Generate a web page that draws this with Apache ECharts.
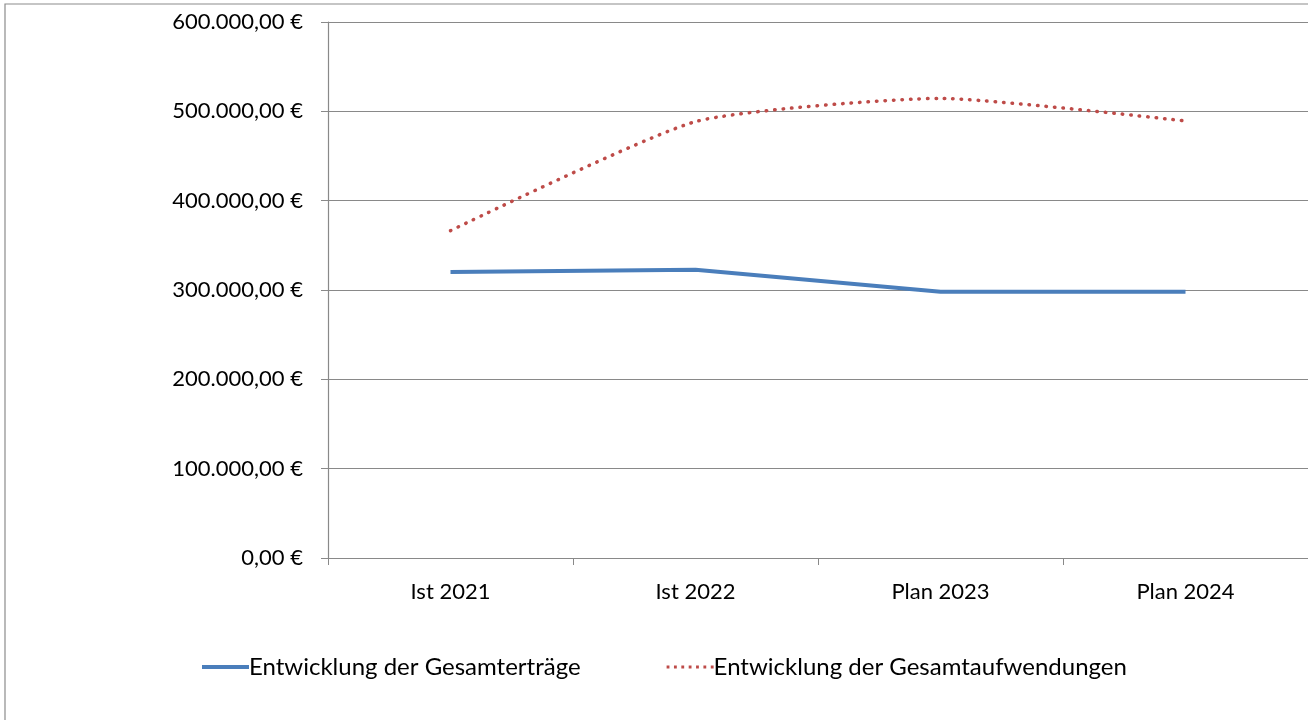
<!DOCTYPE html>
<html><head><meta charset="utf-8">
<script src="https://cdn.jsdelivr.net/npm/echarts@6/dist/echarts.min.js"></script>
<style>html,body{margin:0;padding:0;background:#fff}#c{width:1308px;height:720px}</style>
</head><body><div id="c"></div>
<script>
const categories = ['Ist 2021', 'Ist 2022', 'Plan 2023', 'Plan 2024'];
const ertraege = [320200, 322600, 298100, 298100];
const aufwendungen = [366400, 488500, 514500, 489200];
const yTicks = [0, 100000, 200000, 300000, 400000, 500000, 600000];
const seriesNames = ['Entwicklung der Gesamterträge', 'Entwicklung der Gesamtaufwendungen'];

function fmt(v){
  const s = Math.round(v).toString().replace(/\B(?=(\d{3})+(?!\d))/g, '.');
  return s + ',00 €';
}
let dots = '';
for (let i = 0; i < 7; i++) { const x = i * 7.8; dots += `M${x},5.5 L${x+3},5.5 L${x+3},8.5 L${x},8.5 Z `; }
const FONT = 'Lato';
const chart = echarts.init(document.getElementById('c'), null, {renderer:'canvas'});
chart.setOption({
  animation:false,
  backgroundColor:'#fff',
  textStyle:{fontFamily:FONT},
  graphic:[{type:'rect', shape:{x:5,y:4,width:1400,height:800}, style:{fill:'none', stroke:'#8c8c8c', lineWidth:1.2}, silent:true}],
  grid:{left:328, right:0, top:22, bottom:162},
  legend:{
    left:197, top:650, itemWidth:47, itemHeight:14, itemGap:86,
    textStyle:{fontFamily:FONT, fontSize:24, color:'#000', padding:[0,0,0,-5]},
    data:[
      {name:seriesNames[0], icon:'path://M0,5 L47,5 L47,9 L0,9 Z', itemStyle:{color:'#4a7ebb'}},
      {name:seriesNames[1], icon:'path://' + dots, itemStyle:{color:'#be4b48'}}
    ]
  },
  xAxis:{
    type:'category', data:categories, boundaryGap:true,
    axisLine:{lineStyle:{color:'#898989', width:1.2}},
    axisTick:{show:true, length:7, lineStyle:{color:'#898989'}},
    axisLabel:{fontFamily:FONT, fontSize:22, color:'#000', margin:23}
  },
  yAxis:{
    type:'value', min:0, max:600000, interval:100000,
    axisLine:{show:true, lineStyle:{color:'#898989', width:1.2}},
    axisTick:{show:true, length:7, lineStyle:{color:'#898989'}},
    splitLine:{lineStyle:{color:'#898989', width:1.2}},
    axisLabel:{fontFamily:FONT, fontSize:22, color:'#000', margin:25, formatter:v=>fmt(v)}
  },
  series:[
    {name:seriesNames[0], type:'line', data:ertraege, symbol:'none',
     lineStyle:{color:'#4a7ebb', width:4}, itemStyle:{color:'#4a7ebb'}},
    {name:seriesNames[1], type:'line', data:aufwendungen, symbol:'none', smooth:0.18,
     lineStyle:{color:'#be4b48', width:3.5, type:[0.5,8], cap:'round'}, itemStyle:{color:'#be4b48'}}
  ]
});
</script></body></html>
